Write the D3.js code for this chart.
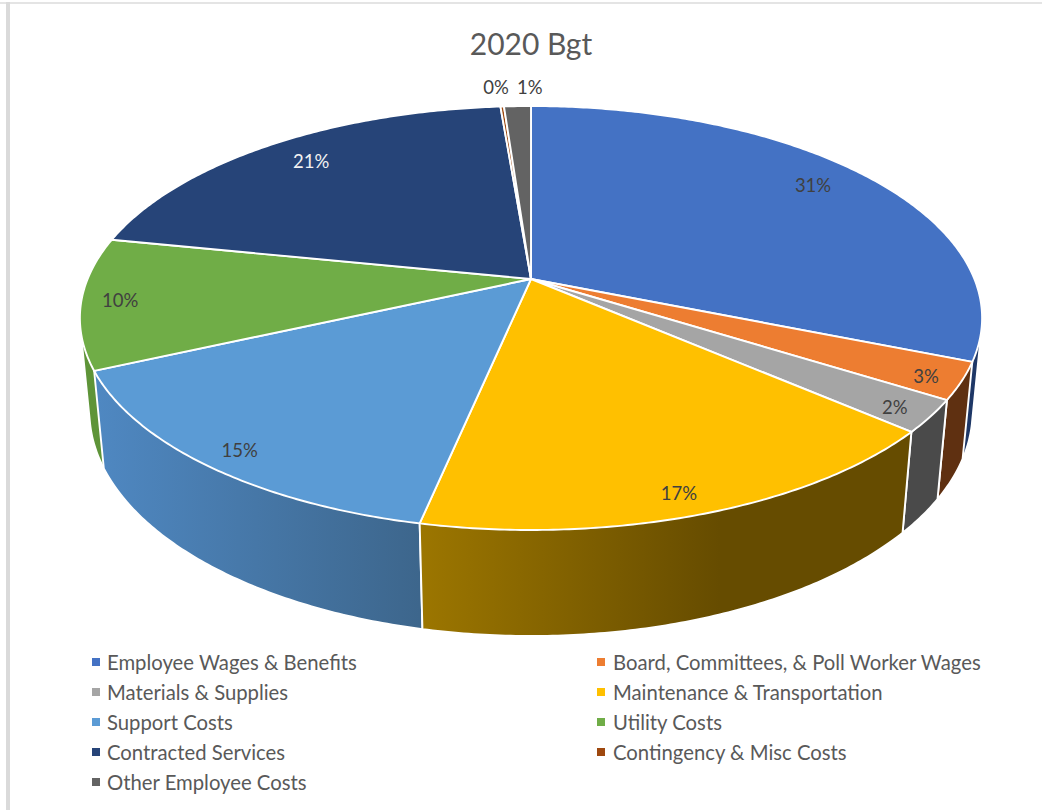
<!DOCTYPE html>
<html>
<head>
<meta charset="utf-8">
<title>2020 Bgt</title>
<script src="https://cdnjs.cloudflare.com/ajax/libs/d3/7.8.5/d3.min.js"></script>
<style>
  html, body { margin: 0; padding: 0; background: #fff; }
  svg { display: block; }
  text { font-family: Lato, "Open Sans", sans-serif; }
</style>
</head>
<body>
<svg id="chart" width="1042" height="810"></svg>
<script>
// Budget categories and their share of the total, in percent
const categories = [
  "Employee Wages & Benefits",
  "Board, Committees, & Poll Worker Wages",
  "Materials & Supplies",
  "Maintenance & Transportation",
  "Support Costs",
  "Utility Costs",
  "Contracted Services",
  "Contingency & Misc Costs",
  "Other Employee Costs"
];
const shares = [31.15, 2.8, 2.45, 16.9, 14.9, 9.98, 20.52, 0.15, 1.15];

// Palette: top faces, then side walls as [left colour, right colour]
const topColors = ["#4472C4", "#ED7D31", "#A5A5A5", "#FFC000", "#5B9BD5", "#70AD47", "#264478", "#9E480E", "#636363"];
const wallColors = [
  ["#1E3766", "#1E3766"], ["#5F3011", "#5F3011"], ["#4A4A4A", "#4A4A4A"],
  ["#9C7600", "#664C00"], ["#4F88C2", "#3D668C"], ["#5E9438", "#5E9438"],
  ["#172A4A", "#172A4A"], ["#5C2A08", "#5C2A08"], ["#3C3C3C", "#3C3C3C"]
];
const labelColors = ["#404040", "#404040", "#404040", "#404040", "#404040", "#404040", "#F2F2F2", "#404040", "#404040"];

// Data label placement on the disc: radial distance and small turn in degrees
const labelRadius = [0.857, 0.928, 0.925, 0.92, 0.921, 0.915, 0.85, 1.137, 1.133];
const labelTurn = [-1.9, 0.8, 0.65, 0.84, -0.5, 0.2, 0.9, -0.4, 1.9];

const svg = d3.select("#chart");

// Frame lines along the top and left of the page
svg.append("rect").attr("x", 0).attr("y", 2).attr("width", 1042).attr("height", 2).attr("fill", "#E4E4E4");
svg.append("rect").attr("x", 6).attr("y", 2).attr("width", 4).attr("height", 808).attr("fill", "#DADADA");

// Perspective projection of a cylinder: u across, v toward the viewer, z downward (0 top, 1 base)
const view = { cx: 531, cy: 279, a: 443.4, b: 204.8, k: 0.184, c: 94, m: 0.0209 };
function project(u, v, z) {
  const w = 1 - view.k * v + view.m * z;
  return [view.cx + view.a * u / w, view.cy + (view.b * v + view.c * z) / w];
}
function rimPoint(angle, radius, z) {
  return project(radius * Math.sin(angle), -radius * Math.cos(angle), z);
}
function rimSamples(a0, a1) {
  const n = Math.max(2, Math.ceil((a1 - a0) / 0.01));
  return d3.range(n + 1).map(i => a0 + (a1 - a0) * i / n);
}

const pie = d3.pie().sort(null).value(d => d)(shares);
const outline = d3.line();

// Gradients for the side walls
const defs = svg.append("defs");
pie.forEach((slice, i) => {
  const xs = rimSamples(slice.startAngle, slice.endAngle).map(t => rimPoint(t, 1, 0)[0]);
  const grad = defs.append("linearGradient")
    .attr("id", "wall" + i)
    .attr("gradientUnits", "userSpaceOnUse")
    .attr("x1", d3.min(xs)).attr("x2", i === 3 ? d3.min(xs) + 300 : d3.max(xs))
    .attr("y1", 0).attr("y2", 0);
  grad.append("stop").attr("offset", 0).attr("stop-color", wallColors[i][0]);
  grad.append("stop").attr("offset", 1).attr("stop-color", wallColors[i][1]);
});

// Side walls, painted from the far sides toward the front. Each wall is the
// hull of its two rim arcs, which also fills the straight silhouette at the
// cylinder's left and right edges; the top faces cover whatever lies behind.
const wallOrder = pie.map((slice, i) => i).sort((p, q) => {
  const mid = s => (s.startAngle + s.endAngle) / 2;
  return Math.abs(mid(pie[q]) - Math.PI) - Math.abs(mid(pie[p]) - Math.PI);
});
svg.append("g").selectAll("path").data(wallOrder).join("path")
  .attr("d", i => {
    const ts = rimSamples(pie[i].startAngle, pie[i].endAngle);
    const pts = ts.map(t => rimPoint(t, 1, 0)).concat(ts.map(t => rimPoint(t, 1, 1)));
    return outline(d3.polygonHull(pts)) + "Z";
  })
  .attr("fill", i => `url(#wall${i})`)
  .attr("stroke", "#fff")
  .attr("stroke-width", 1.9)
  .attr("stroke-linejoin", "round");

// Top faces of the slices
svg.append("g").selectAll("path").data(pie).join("path")
  .attr("d", s => {
    const rim = rimSamples(s.startAngle, s.endAngle).map(t => rimPoint(t, 1, 0));
    return outline([project(0, 0, 0)].concat(rim)) + "Z";
  })
  .attr("fill", (s, i) => topColors[i])
  .attr("stroke", "#fff")
  .attr("stroke-width", 1.9)
  .attr("stroke-linejoin", "round");

// Percentage labels
svg.append("g").selectAll("text").data(pie).join("text")
  .each(function (s, i) {
    const mid = (s.startAngle + s.endAngle) / 2 + labelTurn[i] * Math.PI / 180;
    const p = rimPoint(mid, labelRadius[i], 0);
    d3.select(this).attr("x", p[0]).attr("y", p[1]);
  })
  .attr("text-anchor", "middle")
  .attr("dominant-baseline", "central")
  .attr("font-size", 18.5)
  .attr("fill", (s, i) => labelColors[i])
  .text(s => Math.round(s.data) + "%");

// Title
svg.append("text")
  .attr("x", 531).attr("y", 43)
  .attr("text-anchor", "middle")
  .attr("dominant-baseline", "central")
  .attr("font-size", 30)
  .attr("fill", "#595959")
  .text("2020 Bgt");

// Two-column legend
const legendCol = d3.scaleOrdinal().domain([0, 1]).range([92, 597]);
const legendRow = d3.scaleLinear().domain([0, 4]).range([662, 782]);
const legend = svg.append("g").selectAll("g").data(categories).join("g")
  .attr("transform", (d, i) => `translate(${legendCol(i % 2)},${legendRow(Math.floor(i / 2))})`);
legend.append("rect")
  .attr("x", 0).attr("y", -4).attr("width", 8).attr("height", 8)
  .attr("fill", (d, i) => topColors[i]);
legend.append("text")
  .attr("x", (d, i) => i % 2 ? 16 : 15).attr("y", -0.5)
  .attr("dominant-baseline", "central")
  .attr("font-size", 20.3)
  .attr("fill", "#595959")
  .text(d => d);
</script>
</body>
</html>
